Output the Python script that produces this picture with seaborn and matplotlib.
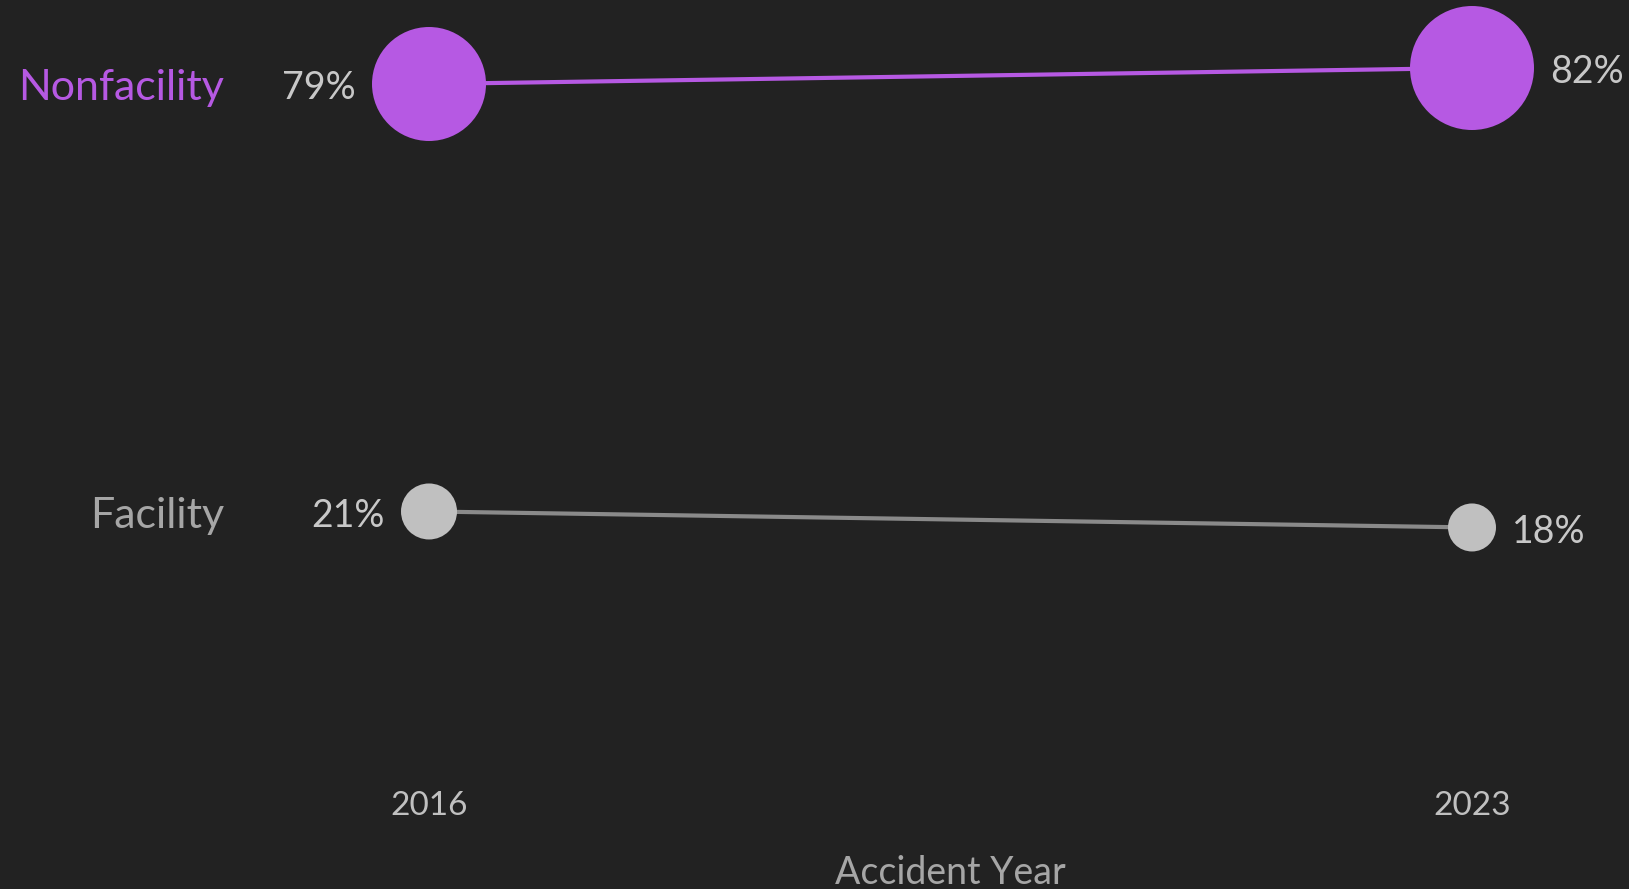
import matplotlib
matplotlib.use("Agg")
import matplotlib.pyplot as plt
import seaborn as sns
import pandas as pd

# ---- data ----
years = [2016, 2023]
categories = ["Nonfacility", "Facility"]
nonfacility_share = [79.4, 81.6]
facility_share = [20.6, 18.4]
value_labels = {"Nonfacility": ["79%", "82%"], "Facility": ["21%", "18%"]}
x_label = "Accident Year"

# ---- style ----
BG = "#222222"
PURPLE = "#b659e3"
GREY_MARK = "#c0c0c0"
GREY_LINE = "#8a8a8a"
colors = {"Nonfacility": PURPLE, "Facility": GREY_MARK}
line_colors = {"Nonfacility": PURPLE, "Facility": GREY_LINE}
name_colors = {"Nonfacility": PURPLE, "Facility": "#a6a6a6"}
# marker diameters in pixels (style)
diam_px = {"Nonfacility": [114, 124], "Facility": [56, 48]}

sns.set_theme(style="white")
plt.rcParams["font.family"] = ["Lato", "DejaVu Sans"]

rows = []
for c, vals in zip(categories, [nonfacility_share, facility_share]):
    for y, v in zip(years, vals):
        rows.append({"year": y, "category": c, "share": v})
df = pd.DataFrame(rows)

DPI = 100
fig = plt.figure(figsize=(16.29, 8.89), dpi=DPI, facecolor=BG)
ax = fig.add_axes([0, 149 / 889, 1, 740 / 889])
ax.set_facecolor(BG)

sns.lineplot(data=df, x="year", y="share", hue="category", palette=line_colors,
             linewidth=3, legend=False, ax=ax, zorder=1)

size_map = {}
for c, vals in zip(categories, [nonfacility_share, facility_share]):
    for v, d in zip(vals, diam_px[c]):
        size_map[v] = (d * 72 / DPI) ** 2
sns.scatterplot(data=df, x="year", y="share", hue="category", palette=colors,
                size="share", sizes=size_map, legend=False, linewidth=0,
                ax=ax, zorder=3)

ppx = 72 / DPI  # points per pixel
dy = -3  # small downward nudge for text (points)
for c, vals in zip(categories, [nonfacility_share, facility_share]):
    d = diam_px[c]
    ax.annotate(value_labels[c][0], (years[0], vals[0]),
                xytext=(-(d[0] / 2 + 16) * ppx, dy), textcoords="offset points",
                ha="right", va="center", fontsize=27, color="#c8c8c8")
    ax.annotate(value_labels[c][1], (years[1], vals[1]),
                xytext=((d[1] / 2 + 16) * ppx, dy), textcoords="offset points",
                ha="left", va="center", fontsize=27, color="#c8c8c8")
    ax.annotate(c, (years[0], vals[0]),
                xytext=(-(429 - 224) * ppx, dy), textcoords="offset points",
                ha="right", va="center", fontsize=31, color=name_colors[c])

ppy_year = 1043 / 7
ax.set_xlim(2016 - 429 / ppy_year, 2023 + (1629 - 1472) / ppy_year)
ax.set_ylim(79.4 - (740 - 84) / 7.27, 79.4 + 84 / 7.27)

ax.set_xticks(years)
ax.set_xticklabels([str(y) for y in years])
ax.tick_params(axis="x", length=0, pad=37, labelsize=24, labelcolor="#c0c0c0")
ax.set_yticks([])
ax.set_ylabel("")
ax.set_xlabel(x_label, fontsize=27, color="#a6a6a6", labelpad=24)
# centre the axis title between the two years
mid_frac = (sum(years) / 2 - ax.get_xlim()[0]) / (ax.get_xlim()[1] - ax.get_xlim()[0])
ax.xaxis.label.set_x(mid_frac)
for s in ax.spines.values():
    s.set_visible(False)

fig.savefig("out.png", dpi=DPI, facecolor=BG)
